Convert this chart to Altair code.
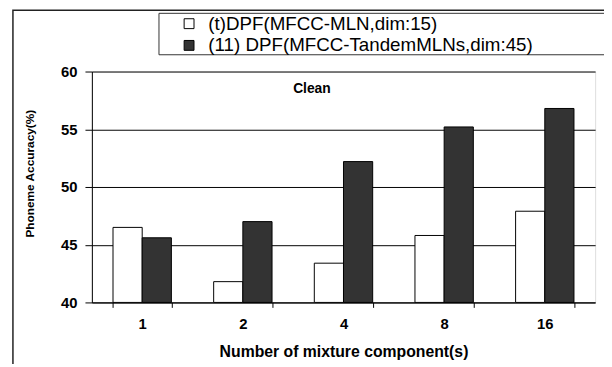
import altair as alt
import pandas as pd

categories = ["1", "2", "4", "8", "16"]
series_names = ["(t)DPF(MFCC-MLN,dim:15)", "(11) DPF(MFCC-TandemMLNs,dim:45)"]
mln_values = [46.5, 41.8, 43.4, 45.8, 47.9]
tandem_values = [45.6, 47.0, 52.2, 55.2, 56.8]
y_ticks = [40, 45, 50, 55, 60]

rows = []
for c, v in zip(categories, mln_values):
    rows.append({"comp": c, "series": series_names[0], "acc": v})
for c, v in zip(categories, tandem_values):
    rows.append({"comp": c, "series": series_names[1], "acc": v})
df = pd.DataFrame(rows)

FONT = "Liberation Sans"
W, H = 510, 234

one = pd.DataFrame({"k": [0]})

outer_frame = alt.Chart(one).mark_rect(fillOpacity=0, stroke="#222222", strokeWidth=1.5).encode(
    x=alt.value(-80), x2=alt.value(540), y=alt.value(-62), y2=alt.value(320)
)
legend_box = alt.Chart(one).mark_rect(fillOpacity=0, stroke="#333333", strokeWidth=1).encode(
    x=alt.value(68), x2=alt.value(540), y=alt.value(-59), y2=alt.value(-17)
)

bars = alt.Chart(df).mark_bar(stroke="black", strokeWidth=1).encode(
    x=alt.X("comp:N", sort=categories,
            scale=alt.Scale(paddingInner=0.42, paddingOuter=0.21),
            axis=alt.Axis(title="Number of mixture component(s)", labelAngle=0,
                          tickBand="extent", tickSize=5, tickColor="black",
                          domainColor="black", labelFont=FONT, labelFontSize=15,
                          labelFontWeight="bold", labelPadding=9, labelColor="black",
                          titleFont=FONT, titleFontSize=16, titleFontWeight="bold",
                          titleColor="black", titleY=50, titleBaseline="middle")),
    xOffset=alt.XOffset("series:N", sort=series_names),
    y=alt.Y("acc:Q", scale=alt.Scale(domain=[40, 60], nice=False, zero=False),
            axis=alt.Axis(title="Phoneme Accuracy(%)", values=y_ticks, grid=True,
                          gridColor="black", gridWidth=1, tickSize=7, tickColor="black",
                          domainColor="black", labelFont=FONT, labelFontSize=15,
                          labelFontWeight="bold", labelPadding=8, labelColor="black",
                          titleFont=FONT, titleFontSize=12, titleFontWeight="bold",
                          titleColor="black", titleAngle=270, titleX=-63, titleY=103,
                          titleAlign="center", titleBaseline="middle")),
    y2=alt.datum(40),
    color=alt.Color("series:N", sort=series_names,
                    scale=alt.Scale(domain=series_names, range=["white", "#333333"]),
                    legend=alt.Legend(title=None, orient="none", legendX=89, legendY=-58,
                                      symbolType="square", symbolSize=100,
                                      symbolStrokeColor="black", symbolStrokeWidth=1,
                                      labelFont=FONT, labelFontSize=19, labelColor="black",
                                      labelOffset=10, rowPadding=2, padding=0,
                                      labelLimit=600)),
)

clean = alt.Chart(one).mark_text(text="Clean", font=FONT, fontSize=14, fontWeight="bold",
                                 color="black").encode(
    x=alt.value(223), y=alt.value(18)
)

chart = alt.layer(outer_frame, legend_box, bars, clean).properties(
    width=W, height=H,
    autosize=alt.AutoSizeParams(type="none"),
    padding={"left": 85, "top": 62, "right": 9, "bottom": 60},
).configure_view(stroke="black", strokeWidth=1).configure(background="white")

chart.save("out.html", embed_options={"renderer": "svg", "actions": False})
